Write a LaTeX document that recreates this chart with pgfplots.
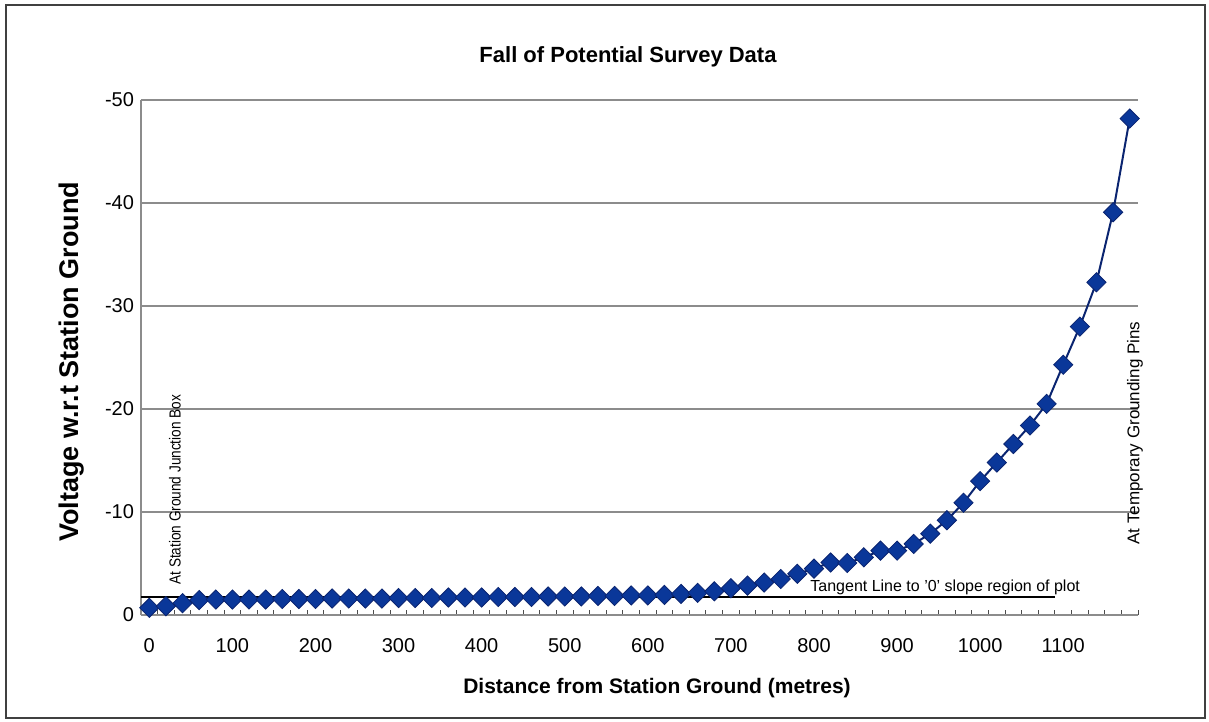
\documentclass[border=0pt]{standalone}
\usepackage{fontspec}
\setmainfont{Liberation Sans}
\usepackage{pgfplots}
\pgfplotsset{compat=1.18}
\usepackage{pgfplotstable}
\definecolor{mk}{HTML}{0A3799}
\definecolor{ln}{HTML}{0A2470}
\definecolor{gr}{HTML}{8C8C8C}
\pgfplotstableread{
x y
0 -0.7
20 -0.85
40 -1.15
60 -1.45
80 -1.5
100 -1.5
120 -1.5
140 -1.5
160 -1.55
180 -1.55
200 -1.55
220 -1.6
240 -1.6
260 -1.6
280 -1.6
300 -1.65
320 -1.65
340 -1.65
360 -1.7
380 -1.7
400 -1.7
420 -1.75
440 -1.75
460 -1.75
480 -1.8
500 -1.8
520 -1.8
540 -1.85
560 -1.85
580 -1.9
600 -1.9
620 -1.95
640 -2.05
660 -2.15
680 -2.3
700 -2.6
720 -2.85
740 -3.15
760 -3.5
780 -4.0
800 -4.5
820 -5.1
840 -5.05
860 -5.6
880 -6.25
900 -6.25
920 -6.9
940 -7.9
960 -9.2
980 -10.9
1000 -13.0
1020 -14.8
1040 -16.6
1060 -18.4
1080 -20.5
1100 -24.3
1120 -28.0
1140 -32.3
1160 -39.1
1180 -48.2
}\survey
\begin{document}
\begin{tikzpicture}
\path[use as bounding box] (0,0) rectangle (604.5pt,361pt);
\draw[line width=0.9pt, draw=black!75] (3pt,2pt) rectangle (602.5pt,358.5pt);
\begin{axis}[
 at={(70.5pt,53.5pt)}, anchor=south west,
 scale only axis, width=498.5pt, height=257.5pt,
 xmin=-10, xmax=1190, ymin=-50, ymax=0, y dir=reverse,
 axis line style={draw=none},
 xtick={0,100,...,1100}, minor xtick={-10,10,...,1190},
 ytick={-50,-40,...,0},
 major tick length=0pt, minor tick length=2.5pt, tick align=inside,
 xtick pos=left, ytick pos=left,
 minor tick style={black!70, line width=0.5pt},
 ymajorgrids, major grid style={gr, line width=0.7pt},
 tick label style={font=\fontsize{10}{12}\selectfont},
 /pgf/number format/assume math mode=true,
 /pgf/number format/1000 sep={},
 xticklabel style={yshift=-8pt},
 clip=false,
]
\draw[gr, line width=0.8pt] (axis cs:-10,0) -- (axis cs:1190,0);
\draw[gr, line width=0.8pt] (axis cs:-10,0) -- (axis cs:-10,-50);
\addplot[ln, line width=1pt, mark=square*, mark size=3.4pt,
  mark options={rotate=45, fill=mk, draw=ln, line width=0.4pt}] table[x=x,y=y] {\survey};
\draw[black, line width=0.9pt] (axis cs:-10,-1.75) -- (axis cs:1090,-1.75);
\end{axis}
\node[font=\bfseries\fontsize{11}{13}\selectfont] at (314pt,332.5pt) {Fall of Potential Survey Data};
\node[font=\bfseries\fontsize{13.5}{15}\selectfont, rotate=90] at (36pt,180pt) {Voltage w.r.t Station Ground};
\node[font=\bfseries\fontsize{10.5}{12}\selectfont] at (328.5pt,17pt) {Distance from Station Ground (metres)};
\node[font=\fontsize{8}{10}\selectfont, rotate=90, anchor=west, inner sep=0pt] at (87.5pt,68.5pt) {\scalebox{0.85}[1]{At Station Ground Junction Box}};
\node[font=\fontsize{8.5}{10}\selectfont, rotate=90, anchor=west, inner sep=0pt] at (567.5pt,88.5pt) {At Temporary Grounding Pins};
\node[font=\fontsize{8}{10}\selectfont, anchor=base west, inner sep=0pt] at (405pt,65pt) {Tangent Line to '0' slope region of plot};
\end{tikzpicture}
\end{document}
